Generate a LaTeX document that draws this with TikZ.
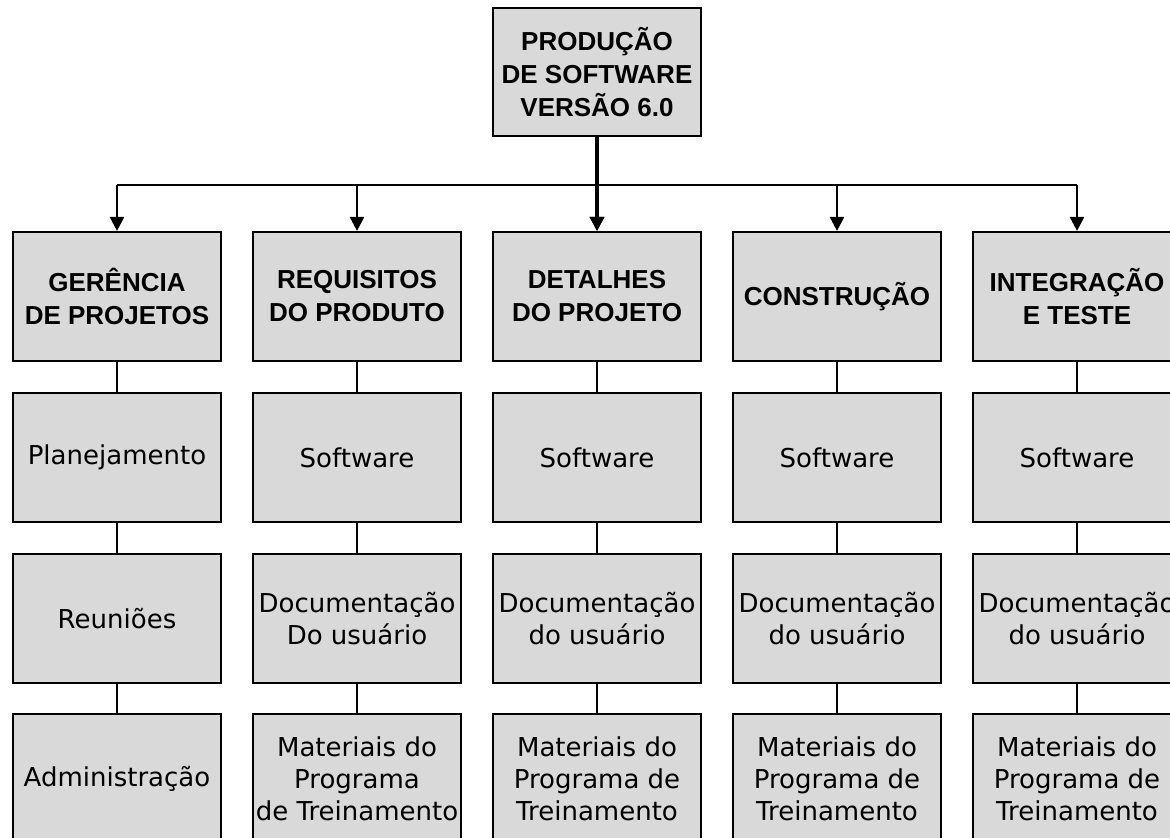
\documentclass[tikz,border=0pt]{standalone}
\usepackage{fontspec}
\setmainfont{DejaVu Sans}
\newfontfamily\headfont{Liberation Sans}
\usetikzlibrary{arrows.meta}

\definecolor{boxgray}{HTML}{D9D9D9}

\tikzset{
	box/.style={draw=black, line width=1.6pt, fill=boxgray, inner sep=0pt,
		minimum width=156pt, minimum height=96.75pt, align=center},
	headbox/.style={box, font=\headfont\bfseries\fontsize{19.5}{24.75}\selectfont},
	itembox/.style={box, font=\fontsize{19.5}{24}\selectfont},
	link/.style={line width=1.5pt},
	branch/.style={line width=2pt, -{Triangle[width=10.5pt, length=10.5pt]}}
}

\begin{document}
\begin{tikzpicture}[x=0.75pt, y=-0.75pt]
		\clip (0, 0) rectangle (1170, 838);
		\fill[white] (0, 0) rectangle (1170, 838);
		% root
		\node[headbox, minimum height=96pt] (top) at (597, 72) {PRODUÇÃO\\DE SOFTWARE\\VERSÃO 6.0};
		\coordinate (bar) at (597, 185);
		% columns
		\foreach \i/\hd/\sw/\doc/\mat in {
				1/{GERÊNCIA\\DE PROJETOS}/Planejamento/Reuniões/Administração,
				2/{REQUISITOS\\DO PRODUTO}/Software/{Documentação\\Do usuário}/{Materiais do\\Programa\\de Treinamento},
				3/{DETALHES\\DO PROJETO}/Software/{Documentação\\do usuário}/{Materiais do\\Programa de\\Treinamento},
				4/{CONSTRUÇÃO}/Software/{Documentação\\do usuário}/{Materiais do\\Programa de\\Treinamento},
				5/{INTEGRAÇÃO\\E TESTE}/Software/{Documentação\\do usuário}/{Materiais do\\Programa de\\Treinamento}} {
			\node[headbox] (hd\i) at ({240*\i-123}, 296.5) {\hd};
			\node[itembox] (sw\i) at ({240*\i-123}, 457.5) {\sw};
			\node[itembox] (doc\i) at ({240*\i-123}, 618.5) {\doc};
			\node[itembox] (mat\i) at ({240*\i-123}, 778.5) {\mat};
			\draw[link] (hd\i) -- (sw\i);
			\draw[link] (sw\i) -- (doc\i);
			\draw[link] (doc\i) -- (mat\i);
			\draw[branch] (hd\i.north |- bar) -- (hd\i.north);
		}
		\draw[line width=2pt] (hd1.north |- bar) -- (hd5.north |- bar);
		\draw[branch, line width=2.6pt] (top) -- (hd3);
	\end{tikzpicture}
\end{document}
